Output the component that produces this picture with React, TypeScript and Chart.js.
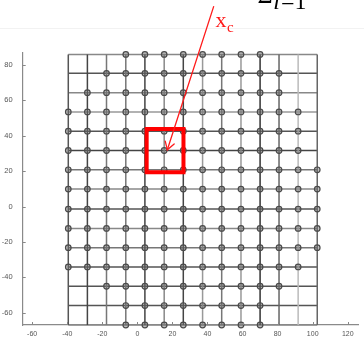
import React, { useEffect, useRef } from 'react';
import { Chart, registerables } from 'chart.js';

Chart.register(...registerables);

// Mesh column positions (x) and row positions (y)
const colX = [-39.4, -28.5, -17.6, -6.6, 4.3, 15.3, 26.2, 37.2, 48.1, 59.1, 70.0, 80.8, 91.7, 102.6];
const rowY = [86.0, 75.3, 64.4, 53.5, 42.6, 31.7, 20.8, 9.9, -1.4, -12.3, -23.2, -34.1, -45.0, -55.9, -66.9];
// For each row: first and last column holding a circle marker
const rowFirstCol = [3, 2, 1, 0, 0, 0, 0, 0, 0, 0, 0, 0, 2, 3, 3];
const rowLastCol = [10, 11, 11, 12, 12, 12, 13, 13, 13, 13, 13, 12, 11, 10, 10];

const xTickValues = [-60, -40, -20, 0, 20, 40, 60, 80, 100, 120];
const yTickValues = [-60, -40, -20, 0, 20, 40, 60, 80];

// Highlighted red box (x range, y range)
const boxX = [5.3, 26.3];
const boxY = [19.4, 43.8];

// Red arrow: start and tip (data coordinates)
const arrowStart = [43.5, 113.0];
const arrowTip = [17.1, 32.1];

// Annotation anchors (data coordinates)
const xcLabelPos = [44.5, 101.3];
const sumLabelPos = [68.5, 115.0];
const sumSubPos = [77.5, 111.6];
const faintEdgeY = [100.7];

// Styles (separate from data)
const colShades = ['#555', '#444', '#777', '#777', '#444', '#888', '#444', '#999', '#777', '#999', '#333', '#666', '#bbb', '#666'];
const rowShades = ['#888', '#555', '#888', '#999', '#555', '#444', '#777', '#888', '#555', '#888', '#777', '#555', '#555', '#555', '#888'];

const SANS = '"Liberation Sans", Arial, Helvetica, sans-serif';
const SERIF = '"Liberation Serif", "Times New Roman", serif';

const overlayPlugin = {
  id: 'overlay',
  beforeDraw(chart: any) {
    const { ctx, scales } = chart;
    const y = scales.y;
    ctx.save();
    ctx.strokeStyle = '#f2f2f2';
    ctx.lineWidth = 1;
    const py = Math.round(y.getPixelForValue(faintEdgeY[0])) + 0.5;
    ctx.beginPath();
    ctx.moveTo(0, py);
    ctx.lineTo(chart.width, py);
    ctx.stroke();
    ctx.restore();
  },
  afterDraw(chart: any) {
    const { ctx, scales, chartArea } = chart;
    const x = scales.x;
    const y = scales.y;
    ctx.save();
    // inward tick marks
    ctx.strokeStyle = '#888';
    ctx.lineWidth = 1;
    xTickValues.forEach((v) => {
      const px = Math.round(x.getPixelForValue(v)) + 0.5;
      ctx.beginPath();
      ctx.moveTo(px, chartArea.bottom);
      ctx.lineTo(px, chartArea.bottom - 3);
      ctx.stroke();
    });
    yTickValues.forEach((v) => {
      const py = Math.round(y.getPixelForValue(v)) + 0.5;
      ctx.beginPath();
      ctx.moveTo(chartArea.left, py);
      ctx.lineTo(chartArea.left + 3, py);
      ctx.stroke();
    });

    // red arrow
    const sx = x.getPixelForValue(arrowStart[0]);
    const sy = y.getPixelForValue(arrowStart[1]);
    const tx = x.getPixelForValue(arrowTip[0]);
    const ty = y.getPixelForValue(arrowTip[1]);
    ctx.strokeStyle = '#ff1a1a';
    ctx.lineWidth = 1.3;
    ctx.lineCap = 'round';
    ctx.beginPath();
    ctx.moveTo(sx, sy);
    ctx.lineTo(tx, ty);
    ctx.stroke();
    const ang = Math.atan2(sy - ty, sx - tx);
    const len = 9;
    const spread = 0.55;
    ctx.beginPath();
    ctx.moveTo(tx + len * Math.cos(ang - spread), ty + len * Math.sin(ang - spread));
    ctx.lineTo(tx, ty);
    ctx.lineTo(tx + len * Math.cos(ang + spread), ty + len * Math.sin(ang + spread));
    ctx.stroke();

    // x_c label
    const lx = x.getPixelForValue(xcLabelPos[0]);
    const ly = y.getPixelForValue(xcLabelPos[1]);
    ctx.fillStyle = '#ff1a1a';
    ctx.textBaseline = 'alphabetic';
    ctx.textAlign = 'left';
    ctx.font = `22px ${SERIF}`;
    ctx.fillText('x', lx, ly);
    const w = ctx.measureText('x').width;
    ctx.font = `15px ${SERIF}`;
    ctx.fillText('c', lx + w + 0.5, ly + 5);

    // partial summation formula at the top
    ctx.fillStyle = '#000';
    ctx.font = `26px ${SERIF}`;
    ctx.fillText('\u03A3', x.getPixelForValue(sumLabelPos[0]), y.getPixelForValue(sumLabelPos[1]));
    const bx = x.getPixelForValue(sumSubPos[0]);
    const by = y.getPixelForValue(sumSubPos[1]);
    ctx.font = `italic 24px ${SERIF}`;
    ctx.fillText('l', bx, by);
    const lw = ctx.measureText('l').width;
    ctx.font = `24px ${SERIF}`;
    ctx.fillText('=1', bx + lw + 1, by);
    ctx.restore();
  },
};

export default function App() {
  const canvasRef = useRef<HTMLCanvasElement | null>(null);

  useEffect(() => {
    document.body.style.margin = '0';
    const canvas = canvasRef.current;
    if (!canvas) return;

    const lastRow = rowY.length - 1;
    const lastCol = colX.length - 1;

    const lineSets: any[] = [];
    colX.forEach((cx, i) => {
      lineSets.push({
        data: [
          { x: cx, y: rowY[0] },
          { x: cx, y: rowY[lastRow] },
        ],
        showLine: true,
        pointRadius: 0,
        borderColor: colShades[i],
        borderWidth: 1.5,
        order: 3,
        clip: false,
      });
    });
    rowY.forEach((ry, j) => {
      lineSets.push({
        data: [
          { x: colX[0], y: ry },
          { x: colX[lastCol], y: ry },
        ],
        showLine: true,
        pointRadius: 0,
        borderColor: rowShades[j],
        borderWidth: 1.5,
        order: 3,
        clip: false,
      });
    });

    const pts: { x: number; y: number }[] = [];
    rowY.forEach((ry, j) => {
      for (let c = rowFirstCol[j]; c <= rowLastCol[j]; c++) {
        pts.push({ x: colX[c], y: ry });
      }
    });

    const boxData = [
      { x: boxX[0], y: boxY[1] },
      { x: boxX[1], y: boxY[1] },
      { x: boxX[1], y: boxY[0] },
      { x: boxX[0], y: boxY[0] },
      { x: boxX[0], y: boxY[1] },
    ];

    const chart = new Chart(canvas, {
      type: 'scatter',
      data: {
        datasets: [
          {
            data: boxData,
            showLine: true,
            pointRadius: 0,
            borderColor: '#ff0000',
            borderWidth: 4,
            borderJoinStyle: 'miter',
            borderCapStyle: 'square',
            tension: 0,
            order: 0,
            clip: false,
          } as any,
          {
            data: pts,
            showLine: false,
            pointStyle: 'circle',
            pointRadius: 2.8,
            pointBorderWidth: 1.2,
            pointBorderColor: '#4a4a4a',
            pointBackgroundColor: 'rgba(110,110,110,0.45)',
            order: 1,
            clip: false,
          } as any,
          ...lineSets,
        ],
      },
      options: {
        responsive: false,
        animation: false,
        devicePixelRatio: 1,
        events: [],
        layout: { padding: { top: 53, left: 0, right: 0, bottom: 0 } },
        plugins: {
          legend: { display: false },
          tooltip: { enabled: false },
        },
        scales: {
          x: {
            type: 'linear',
            min: -65.4,
            max: 126.3,
            afterBuildTicks: (s: any) => {
              s.ticks = xTickValues.map((v) => ({ value: v }));
            },
            afterFit: (s: any) => {
              s.height = 14;
            },
            ticks: {
              autoSkip: false,
              maxRotation: 0,
              padding: -3,
              color: '#555',
              font: { family: SANS, size: 7 },
            },
            grid: { display: false },
            border: { display: true, color: '#8a8a8a', width: 1.2 },
          },
          y: {
            type: 'linear',
            min: -66.9,
            max: 86.8,
            afterBuildTicks: (s: any) => {
              s.ticks = yTickValues.map((v) => ({ value: v }));
            },
            afterFit: (s: any) => {
              s.width = 22.7;
            },
            ticks: {
              autoSkip: false,
              padding: 2,
              color: '#555',
              font: { family: SANS, size: 7.5 },
            },
            grid: { display: false },
            border: { display: true, color: '#8a8a8a', width: 1.2 },
          },
        },
      } as any,
      plugins: [overlayPlugin],
    });

    return () => {
      chart.destroy();
    };
  }, []);

  return (
    <div style={{ width: 364, height: 339, position: 'relative', background: '#fff' }}>
      <canvas ref={canvasRef} width={364} height={339} style={{ display: 'block', width: 364, height: 339 }} />
    </div>
  );
}
